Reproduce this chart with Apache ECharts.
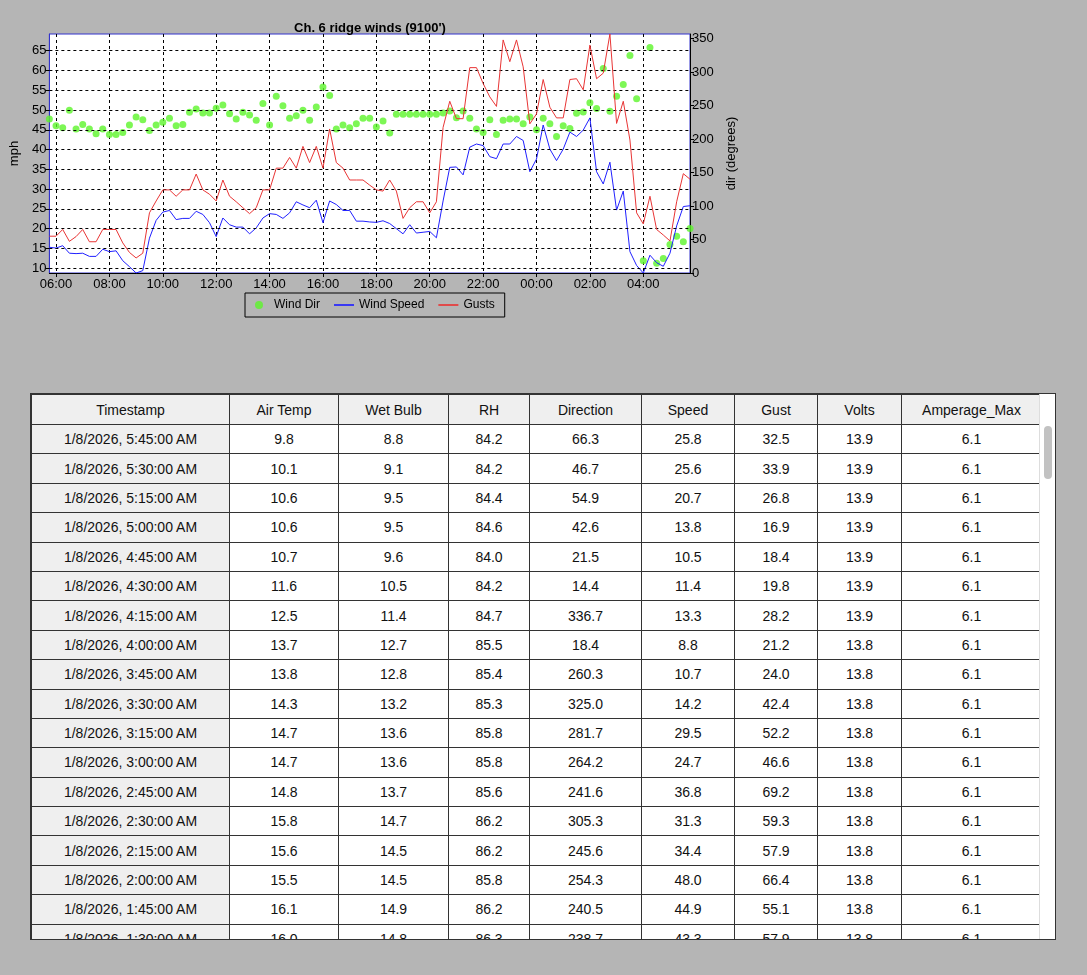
<!DOCTYPE html>
<html><head><meta charset="utf-8">
<script src="https://cdn.jsdelivr.net/npm/echarts@6/dist/echarts.min.js"></script>
<style>
body{margin:0;background:#b5b5b5;font-family:"Liberation Sans",Arial,sans-serif;width:1087px;height:975px;overflow:hidden;position:relative}
#chart{position:absolute;left:0;top:0;width:1087px;height:340px}
#tbl{position:absolute;left:30px;top:393px;width:1026px;height:547px;overflow:hidden;background:#fff;border:1px solid #333;box-sizing:border-box}
table{border-collapse:collapse;width:1010px;table-layout:fixed;font-size:14px;color:#111}
td,th{border:1px solid #333;text-align:center;padding:0;font-weight:normal}
th{background:#efefef;height:29px}
td{height:28.4px;background:#fff}
td:first-child{background:#efefef}
#sb{position:absolute;right:0;top:0;width:15px;height:547px;background:#fff;border-left:1px solid #ddd}
#thumb{position:absolute;left:4px;top:32px;width:8px;height:53px;border-radius:4px;background:#c2c2c2}
</style></head><body>
<div id="chart"></div>
<div id="tbl"><table id="t"></table><div id="sb"><div id="thumb"></div></div></div>
<script>
const speed=[15.3,15.1,15.7,13.8,13.7,13.8,13,13,14.8,14.2,14.4,11.9,10.4,8.8,9.4,17.6,22.1,24.2,24.6,22.3,22.6,22.6,24.4,23.6,21.5,18,22.7,21,20.4,20.4,18.7,20.2,22.7,23.8,23.6,22.6,24,26.8,26,25.3,27.2,21.5,27,26.1,24.6,24.6,21.9,21.9,21.7,
21.6,22,21.3,20,18.7,21,18.9,19.1,19.3,17.7,27,35.5,35.6,33.6,40.6,41.4,41,38.2,37.7,41.4,41.4,43.3,42.3,
34.4,37.6,46.2,40.1,37.2,40.1,44.4,43.3,44.9,48.0,34.4,31.3,36.8,24.7,29.5,14.2,10.7,8.8,13.3,11.4,10.5,13.8,20.7,25.6,25.8];
const gust=[18.1,18.1,19.8,16.8,18,19.8,16.7,16.7,19.8,19.8,19.8,16.4,14,12.6,13.8,24,27,29.8,29.8,28.2,29.8,29.8,33.8,29.8,28.7,27,32.3,28.2,26.8,25.3,23.8,25.3,29.8,29.8,35.3,35.3,38,35.3,40.8,36.7,40.8,35.3,45.2,36.7,35.3,32.3,32.3,32.3,31,
29.8,29.5,32.3,29.5,22.6,25.3,26.8,26.8,24,26.8,45.6,52.2,47.8,47.8,60.7,60.7,56.7,53.3,50.9,67.7,62.2,67.7,60.9,
46.5,49,57.7,50.7,48,48,57.7,57.9,55.1,66.4,57.9,59.3,69.2,46.6,52.2,42.4,24.0,21.2,28.2,19.8,18.4,16.9,26.8,33.9,32.5];
const dir=[230,220,217,243,215,222,215,208,215,207,207,210,221,233,229,213,221,225,231,220,222,240,245,239,239,246,251,238,230,240,236,228,253,221,264,250,231,235,243,228,248,278,265,
215,221,217,223,231,231,218,227,209,237,237,237,237,237,237,237,239,242,232,242,231,215,210,229,207,228,230,
230,223,233,214,231,223,204,220,216,238.7,240.5,254.3,245.6,305.3,241.6,264.2,281.7,325.0,260.3,18.4,336.7,14.4,21.5,42.6,54.9,46.7,66.3];
// table columns, newest first
const airTemp=[9.8,10.1,10.6,10.6,10.7,11.6,12.5,13.7,13.8,14.3,14.7,14.7,14.8,15.8,15.6,15.5,16.1,16.0];
const wetBulb=[8.8,9.1,9.5,9.5,9.6,10.5,11.4,12.7,12.8,13.2,13.6,13.6,13.7,14.7,14.5,14.5,14.9,14.8];
const rh=[84.2,84.2,84.4,84.6,84.0,84.2,84.7,85.5,85.4,85.3,85.8,85.8,85.6,86.2,86.2,85.8,86.2,86.3];
const volts=[13.9,13.9,13.9,13.9,13.9,13.9,13.9,13.8,13.8,13.8,13.8,13.8,13.8,13.8,13.8,13.8,13.8,13.8];
const amp=[6.1,6.1,6.1,6.1,6.1,6.1,6.1,6.1,6.1,6.1,6.1,6.1,6.1,6.1,6.1,6.1,6.1,6.1];
const headers=['Timestamp','Air Temp','Wet Bulb','RH','Direction','Speed','Gust','Volts','Amperage_Max'];
const mphTicks=[10,15,20,25,30,35,40,45,50,55,60,65];

const times=[];const stamps=[];
for(let i=0;i<dir.length;i++){const m=5*60+45+15*i;const h=Math.floor(m/60)%24,mm=m%60;
 times.push(String(h).padStart(2,'0')+':'+String(mm).padStart(2,'0'));
 const day=m>=24*60?8:7;const h12=(h%12)||12;const ap=h<12?'AM':'PM';
 stamps.push('1/'+day+'/2026, '+h12+':'+String(mm).padStart(2,'0')+':00 '+ap);}

const widths=[198,109,110,81,112,93,83,84,140];
let html='<colgroup>'+widths.map(w=>'<col style="width:'+w+'px">').join('')+'</colgroup><tr>'+headers.map(h=>'<th>'+h+'</th>').join('')+'</tr>';
const n=dir.length;
for(let r=0;r<airTemp.length;r++){const k=n-1-r;
 const vals=[stamps[k],airTemp[r].toFixed(1),wetBulb[r].toFixed(1),rh[r].toFixed(1),dir[k].toFixed(1),speed[k].toFixed(1),gust[k].toFixed(1),volts[r].toFixed(1),amp[r].toFixed(1)];
 html+='<tr>'+vals.map(v=>'<td>'+v+'</td>').join('')+'</tr>';}
document.getElementById('t').innerHTML=html;

const ch=echarts.init(document.getElementById('chart'));
const tickIdx=i=>(i-1)%8===0&&i>0;
const lineIcon='path://M0,0L24,0L24,2L0,2Z';
ch.setOption({
 animation:false,
 textStyle:{fontFamily:'Liberation Sans, Arial, sans-serif'},
 title:{text:"Ch. 6 ridge winds (9100')",left:365,top:17,textAlign:'center',textStyle:{fontSize:13,fontWeight:'bold',color:'#000'}},
 grid:{left:41,right:397,top:34,height:239,backgroundColor:'#fff',show:true,borderColor:'#3333cc',borderWidth:1},
 legend:{left:245,top:293,width:251,height:25,padding:[6,10],itemGap:14,borderColor:'#000',borderWidth:1,
  textStyle:{fontSize:12,color:'#000'},itemWidth:20,itemHeight:8,
  data:[{name:'Wind Dir',icon:'circle',itemStyle:{color:'#5cf52a'}},{name:'Wind Speed',icon:lineIcon},{name:'Gusts',icon:lineIcon}]},
 xAxis:{type:'category',data:times,boundaryGap:false,
  axisLine:{lineStyle:{color:'#000'}},
  axisTick:{interval:(i)=>tickIdx(i),length:4,lineStyle:{color:'#000'}},
  axisLabel:{interval:(i)=>tickIdx(i),color:'#000',fontSize:13,margin:5},
  splitLine:{show:true,interval:(i)=>tickIdx(i),lineStyle:{color:'#000',type:[3,3],width:1}}},
 yAxis:[
  {type:'value',min:8.8,max:69.2,name:'mph',nameLocation:'middle',nameGap:27,nameTextStyle:{fontSize:13,color:'#000'},
   axisLine:{show:true,lineStyle:{color:'#3333cc'}},
   axisTick:{show:true,customValues:mphTicks,length:4,lineStyle:{color:'#000'}},
   axisLabel:{customValues:mphTicks,color:'#000',fontSize:13,margin:3},splitLine:{show:false}},
  {type:'value',min:0,max:357,interval:50,position:'right',name:'dir (degrees)',nameLocation:'middle',nameGap:30,nameRotate:90,
   nameTextStyle:{fontSize:13,color:'#000'},
   axisLine:{show:true,lineStyle:{color:'#000'}},axisTick:{show:true,length:4,lineStyle:{color:'#000'}},
   axisLabel:{color:'#000',fontSize:13,margin:2,showMaxLabel:false},splitLine:{show:false}}],
 series:[
  {name:'Wind Dir',type:'scatter',yAxisIndex:1,data:dir,symbolSize:7,itemStyle:{color:'#5cf52a'},z:3},
  {name:'Wind Speed',type:'line',data:speed,symbol:'none',lineStyle:{color:'#2020ff',width:1},itemStyle:{color:'#2020ff'},z:4,
   markLine:{silent:true,symbol:'none',label:{show:false},lineStyle:{color:'#000',type:[3,3],width:1},data:mphTicks.map(v=>({yAxis:v}))}},
  {name:'Gusts',type:'line',data:gust,symbol:'none',lineStyle:{color:'#e83535',width:1},itemStyle:{color:'#e83535'},z:5}
 ]});
</script></body></html>
